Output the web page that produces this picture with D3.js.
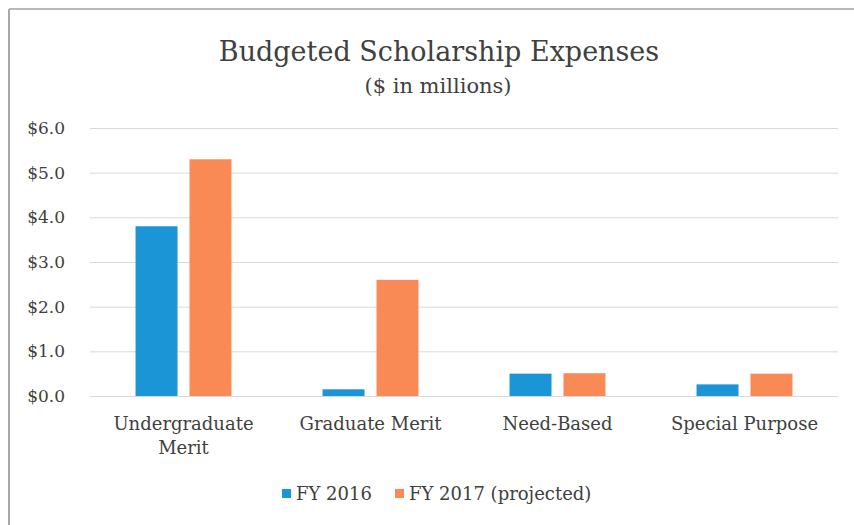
<!DOCTYPE html>
<html>
<head>
<meta charset="utf-8">
<script src="https://cdn.jsdelivr.net/npm/d3@7"></script>
<style>
  body { margin: 0; background: #fff; }
  svg { display: block; }
  text { font-family: "DejaVu Serif", "Liberation Serif", serif; fill: #404040; }
</style>
</head>
<body>
<svg id="canvas" width="854" height="525"></svg>
<script>
// chart values ($ in millions)
let categories = [["Undergraduate", "Merit"], ["Graduate Merit"], ["Need-Based"], ["Special Purpose"]]
let seriesNames = ["FY 2016", "FY 2017 (projected)"]
let fy2016 = [3.8, 0.15, 0.5, 0.26]
let fy2017 = [5.3, 2.6, 0.51, 0.5]
let yTicks = [0, 1, 2, 3, 4, 5, 6]
let colors = ["#1b95d6", "#fa8a55"]

let canvas = d3.select('#canvas')

// scan border (left + top only)
canvas.append('line').attr('x1', 9).attr('y1', 9).attr('x2', 9).attr('y2', 525)
  .attr('stroke', '#a8a8a8').attr('stroke-width', 2)
canvas.append('line').attr('x1', 9).attr('y1', 9).attr('x2', 854).attr('y2', 9)
  .attr('stroke', '#b4b8c4').attr('stroke-width', 2)

let catKeys = categories.map(c => c.join(' '))

let x = d3.scaleBand()
  .domain(catKeys)
  .range([90, 838])
  .paddingInner(0.487)
  .paddingOuter(0.2435)

let xInner = d3.scaleBand()
  .domain(seriesNames)
  .range([0, x.bandwidth()])
  .paddingInner(0.222)

let y = d3.scaleLinear()
  .domain([0, 6])
  .range([396, 128])

// y axis + gridlines
let yAxis = canvas.append('g')
  .attr('transform', 'translate(90,0)')
  .call(d3.axisLeft(y)
    .tickValues(yTicks)
    .tickSize(-748)
    .tickPadding(25)
    .tickFormat(d => '$' + d.toFixed(1)))
yAxis.select('.domain').remove()
yAxis.selectAll('line').attr('stroke', '#d9d9d9').attr('stroke-width', 1)
yAxis.selectAll('text').attr('font-size', 17).attr('fill', '#404040')
  .attr('font-family', '"DejaVu Serif", serif')

// bars
let rows = catKeys.map((c, i) => ({ key: c, values: [fy2016[i], fy2017[i]] }))

let groups = canvas.selectAll('g.grp')
  .data(rows)
  .enter()
  .append('g')
  .attr('class', 'grp')
  .attr('transform', d => 'translate(' + x(d.key) + ',0)')

groups.selectAll('rect')
  .data(d => d.values.map((v, j) => ({ name: seriesNames[j], value: v, j: j })))
  .enter()
  .append('rect')
  .attr('x', d => xInner(d.name))
  .attr('width', xInner.bandwidth())
  .attr('y', d => y(d.value))
  .attr('height', d => y(0) - y(d.value))
  .attr('fill', d => colors[d.j])

// category labels
let xAxis = canvas.append('g')
  .attr('transform', 'translate(0,396)')
  .call(d3.axisBottom(x).tickSize(0).tickPadding(0).tickFormat(''))
xAxis.select('.domain').remove()
xAxis.selectAll('.tick').each(function (d, i) {
  let t = d3.select(this).append('text')
    .attr('text-anchor', 'middle')
    .attr('font-size', 18)
    .attr('fill', '#404040')
  categories[i].forEach((line, k) => {
    t.append('tspan').attr('x', 0).attr('y', 34 + k * 24).text(line)
  })
})

// title
canvas.append('text')
  .attr('x', 439).attr('y', 61)
  .attr('text-anchor', 'middle')
  .attr('font-size', 27)
  .text('Budgeted Scholarship Expenses')
canvas.append('text')
  .attr('x', 438).attr('y', 93)
  .attr('text-anchor', 'middle')
  .attr('font-size', 21)
  .text('($ in millions)')

// legend
let legendX = [282, 395]
let legend = canvas.selectAll('g.legend')
  .data(seriesNames)
  .enter()
  .append('g')
  .attr('class', 'legend')
  .attr('transform', (d, i) => 'translate(' + legendX[i] + ',489)')
legend.append('rect').attr('width', 9).attr('height', 9).attr('fill', (d, i) => colors[i])
legend.append('text').attr('x', 14).attr('y', 11).attr('font-size', 18).text(d => d)
</script>
</body>
</html>
